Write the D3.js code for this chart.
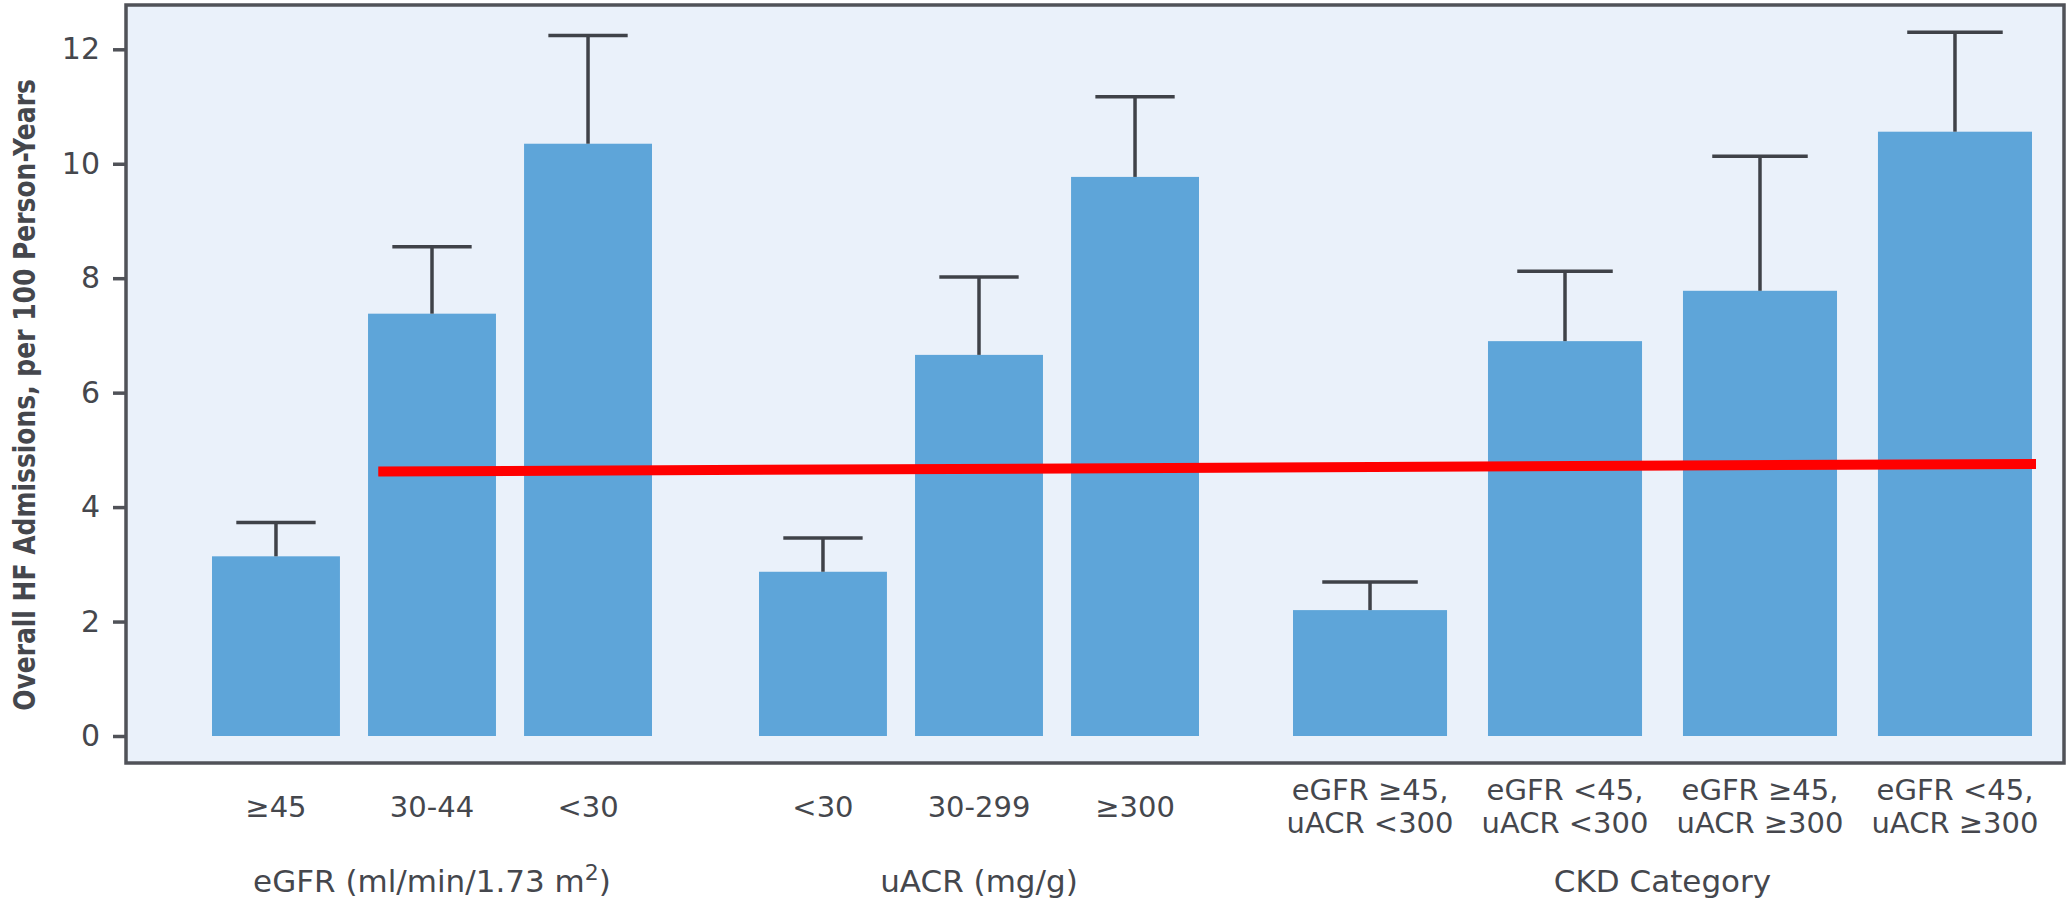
<!DOCTYPE html>
<html>
<head>
<meta charset="utf-8">
<script src="https://cdn.jsdelivr.net/npm/d3@7"></script>
<style>
  html, body { margin: 0; padding: 0; background: #ffffff; }
  svg { display: block; }
  text { font-family: "DejaVu Sans", "Noto Sans", sans-serif; fill: #45474d; }
</style>
</head>
<body>
<script>
// ---------------- data ----------------
const groupTitles = ["eGFR (ml/min/1.73 m", "uACR (mg/g)", "CKD Category"];
const egfrCats  = ["≥45", "30-44", "<30"];
const egfrRates = [3.14, 7.38, 10.35];
const egfrUpper = [3.73, 8.55, 12.24];
const uacrCats  = ["<30", "30-299", "≥300"];
const uacrRates = [2.87, 6.66, 9.77];
const uacrUpper = [3.46, 8.02, 11.17];
const ckdCats   = ["eGFR ≥45,|uACR <300", "eGFR <45,|uACR <300", "eGFR ≥45,|uACR ≥300", "eGFR <45,|uACR ≥300"];
const ckdRates  = [2.20, 6.90, 7.78, 10.56];
const ckdUpper  = [2.69, 8.12, 10.13, 12.30];
const yTicks    = [0, 2, 4, 6, 8, 10, 12];
const refLineValues = [4.62, 4.755];   // red reference line: left and right end values
const yTitle = "Overall HF Admissions, per 100 Person-Years";

// ---------------- layout ----------------
const W = 2066, H = 900;
const frame = { x0: 126, y0: 5, x1: 2064, y1: 763 };
const groupRanges = [[212, 652], [759, 1199], [1293, 2032]];
const groupPadding = [0.18, 0.18, 0.21];
const barColor = "#5ea5d9";
const bgColor = "#eaf1fa";
const darkGray = "#45474d";

const svg = d3.select("body").append("svg").attr("width", W).attr("height", H);

const y = d3.scaleLinear().domain([0, 12]).range([736, 49.3]);

// plot background + frame
svg.append("rect")
  .attr("x", frame.x0).attr("y", frame.y0)
  .attr("width", frame.x1 - frame.x0).attr("height", frame.y1 - frame.y0)
  .attr("fill", bgColor).attr("stroke", "#505258").attr("stroke-width", 3.5);

// y axis ticks + labels
const yAxis = d3.axisLeft(y).tickValues(yTicks).tickSize(13).tickPadding(13).tickFormat(d3.format("d"));
const gy = svg.append("g").attr("transform", `translate(${frame.x0},0)`).call(yAxis);
gy.select(".domain").remove();
gy.selectAll(".tick line").attr("stroke", "#505258").attr("stroke-width", 3.5);
gy.selectAll(".tick text")
  .attr("font-size", 30).attr("fill", darkGray)
  .style("font-family", '"DejaVu Sans", sans-serif');

// y title (condensed horizontally to fit the reference length)
const yt = svg.append("text")
  .attr("text-anchor", "middle").attr("dominant-baseline", "central")
  .attr("font-size", 31).attr("font-weight", "bold")
  .text(yTitle);
const natural = yt.node().getComputedTextLength();
const k = 632 / natural;
yt.attr("transform", `translate(25,395) rotate(-90) scale(${k},1)`);

// groups
const groups = [
  { cats: egfrCats, rates: egfrRates, upper: egfrUpper },
  { cats: uacrCats, rates: uacrRates, upper: uacrUpper },
  { cats: ckdCats,  rates: ckdRates,  upper: ckdUpper }
];
const scales = [];

groups.forEach((g, gi) => {
  const x = d3.scaleBand().domain(g.cats).range(groupRanges[gi])
    .paddingInner(groupPadding[gi]).paddingOuter(0);
  scales.push(x);
  const bw = x.bandwidth();
  const rows = g.cats.map((c, i) => ({ cat: c, v: g.rates[i], u: g.upper[i] }));
  const gg = svg.append("g");

  gg.selectAll("rect.bar").data(rows).join("rect")
    .attr("class", "bar")
    .attr("x", d => x(d.cat)).attr("width", bw)
    .attr("y", d => y(d.v)).attr("height", d => y(0) - y(d.v))
    .attr("fill", barColor);

  // error bars
  gg.selectAll("line.stem").data(rows).join("line")
    .attr("class", "stem")
    .attr("x1", d => x(d.cat) + bw / 2).attr("x2", d => x(d.cat) + bw / 2)
    .attr("y1", d => y(d.v)).attr("y2", d => y(d.u))
    .attr("stroke", "#3f4248").attr("stroke-width", 3.5);
  gg.selectAll("line.cap").data(rows).join("line")
    .attr("class", "cap")
    .attr("x1", d => x(d.cat) + bw / 2 - bw * 0.31).attr("x2", d => x(d.cat) + bw / 2 + bw * 0.31)
    .attr("y1", d => y(d.u)).attr("y2", d => y(d.u))
    .attr("stroke", "#3f4248").attr("stroke-width", 3.5);

  // category labels
  rows.forEach(d => {
    const lines = d.cat.split("|");
    const t = gg.append("text")
      .attr("text-anchor", "middle").attr("font-size", 29)
      .attr("x", x(d.cat) + bw / 2);
    if (lines.length === 1) {
      t.attr("y", 817).text(lines[0]);
    } else {
      lines.forEach((ln, li) => {
        t.append("tspan").attr("x", x(d.cat) + bw / 2).attr("y", 800 + li * 33).text(ln);
      });
    }
  });

  // group title
  const [r0, r1] = groupRanges[gi];
  const gt = svg.append("text")
    .attr("x", (r0 + r1) / 2).attr("y", 892)
    .attr("text-anchor", "middle").attr("font-size", 31)
    .text(groupTitles[gi]);
  if (gi === 0) {
    gt.append("tspan").attr("font-size", 22).attr("dy", -12).text("2");
    gt.append("tspan").attr("dy", 12).text(")");
  }
});

// red reference line
const xStart = scales[0](egfrCats[1]) + scales[0].bandwidth() * 0.08;
const lastX = scales[2];
const xEnd = lastX(ckdCats[ckdCats.length - 1]) + lastX.bandwidth() + 4;
svg.append("line")
  .attr("x1", xStart).attr("x2", xEnd)
  .attr("y1", y(refLineValues[0])).attr("y2", y(refLineValues[1]))
  .attr("stroke", "#ff0000").attr("stroke-width", 10);
</script>
</body>
</html>
